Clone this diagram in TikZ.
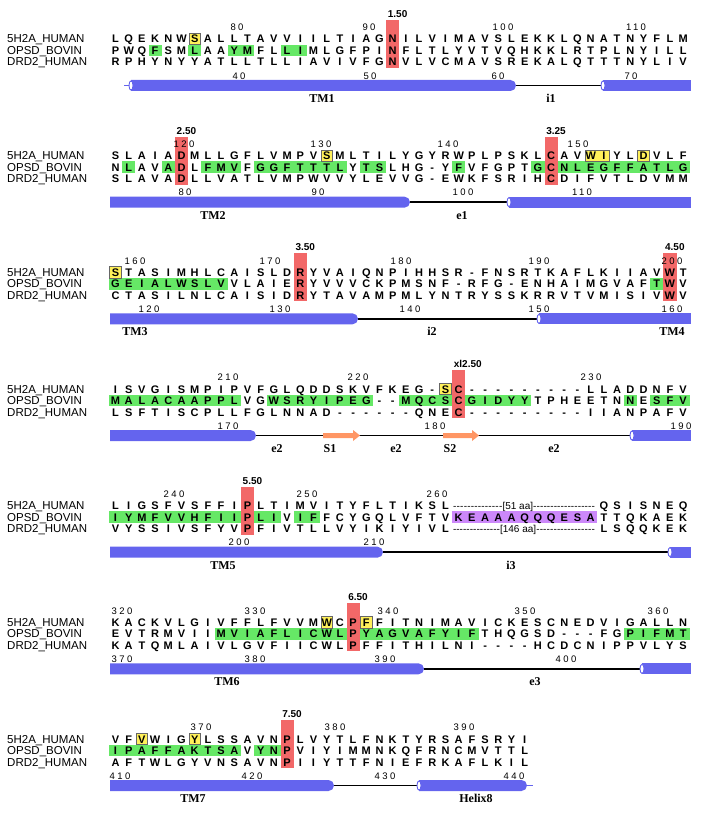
\documentclass[tikz,border=0pt]{standalone}
\usepackage{fontspec}
\setmainfont{Liberation Sans}
\newfontfamily\numfont[LetterSpace=25]{Liberation Sans}
\newfontfamily\sslabelfont{Liberation Serif}
\usetikzlibrary{positioning}

\definecolor{tmred}{RGB}{242,104,104}
\definecolor{consgreen}{RGB}{102,232,102}
\definecolor{boxyellow}{RGB}{255,240,90}
\definecolor{loopviolet}{RGB}{204,136,250}
\definecolor{helixblue}{RGB}{100,100,238}
\definecolor{strandorange}{RGB}{255,150,100}

\newcommand{\colx}[1]{115.5+(#1-1)*13.2}
\newcommand{\rowy}[1]{27.5+11.5*#1}
\newcommand{\seqrow}[4]{\foreach \lett [count=\k from #3] in {#4}{\node[res] (#1c\k) at ({\colx{\k}},{\rowy{#2}+4}) {\lett};}}
\newcommand{\hlrun}[4]{\fill[#1] ({\colx{#3}-6.6},{\rowy{#2}-5.75}) rectangle ({\colx{#4}+6.6},{\rowy{#2}+5.75});}
\newcommand{\ybox}[3]{\filldraw[yellowbox] ({\colx{#2}-5.8},{\rowy{#1}-5.6}) rectangle ({\colx{#3}+5.8},{\rowy{#1}+5.6});}
\newcommand{\bwcol}[3]{\fill[tmred] ({\colx{#2}-6.6},20) rectangle ({\colx{#2}+6.6},68); \node[bwlabel] (#1) at ({\colx{#2}-5},14) {#3};}
\newcommand{\numrow}[3]{\foreach \xx/\nn [count=\k] in {#3}{\node[num] (#1\k) at (\xx,#2) {\nn};}}
\newcommand{\seqnames}[1]{%
  \node[seqname] (#1n1) at (7,{\rowy{1}+4}) {5H2A\_HUMAN};
  \node[seqname] (#1n2) at (7,{\rowy{2}+4}) {OPSD\_BOVIN};
  \node[seqname] (#1n3) at (7,{\rowy{3}+4}) {DRD2\_HUMAN};}
\newcommand{\tmflat}[2]{\fill[helixblue] (#1,80) rectangle (#2,91);}
\newcommand{\tmround}[2]{\fill[helixblue] (#1,80) -- ({#2-5.5},80) arc(-90:90:5.5) -- (#1,91) -- cycle;}
\newcommand{\tmcap}[1]{\filldraw[fill=white,draw=helixblue,line width=0.9pt] (#1,85.5) ellipse (2 and 4.6);}
\newcommand{\betastrand}[2]{\fill[strandorange] (#1,83) -- ({#2-7},83) -- ({#2-7},80) -- (#2,85.5) -- ({#2-7},91) -- ({#2-7},88) -- (#1,88) -- cycle;}

\begin{document}
\begin{tikzpicture}[x=1pt,y=-1pt,
    res/.style={anchor=base,inner sep=0pt,font=\bfseries\fontsize{11}{11}\selectfont},
    seqname/.style={anchor=base west,inner sep=0pt,font=\fontsize{11.5}{11.5}\selectfont},
    num/.style={inner sep=0pt,font=\numfont\fontsize{9.5}{9.5}\selectfont},
    bwlabel/.style={anchor=west,inner sep=0pt,font=\bfseries\fontsize{10}{10}\selectfont},
    sslabel/.style={anchor=base,inner sep=0pt,font=\sslabelfont\bfseries\fontsize{12}{12}\selectfont},
    gaptext/.style={anchor=base,inner sep=0pt,font=\fontsize{10}{10}\selectfont},
    greenbg/.style={fill=consgreen},
    violetbg/.style={fill=loopviolet},
    yellowbox/.style={fill=boxyellow,draw=black!60,line width=0.8pt},
    loopline/.style={line width=1.6pt}]

    \useasboundingbox (0,0) rectangle (708,813);

    % TM1 / i1
    \begin{scope}
    \hlrun{greenbg}{2}{4}{4} \hlrun{greenbg}{2}{7}{7} \hlrun{greenbg}{2}{10}{11} \hlrun{greenbg}{2}{14}{15}
    \ybox{1}{7}{7}
    \bwcol{b1bw}{22}{1.50}
    \numrow{b1t}{27.5}{237/80,369/90,503/100,636/110}
    \numrow{b1b}{76}{239/40,370/50,498/60,631/70}
    \seqnames{b1}
    \seqrow{b1r1}{1}{1}{L,Q,E,K,N,W,S,A,L,L,T,A,V,V,I,I,L,T,I,A,G,N,I,L,V,I,M,A,V,S,L,E,K,K,L,Q,N,A,T,N,Y,F,L,M}
    \seqrow{b1r2}{2}{1}{P,W,Q,F,S,M,L,A,A,Y,M,F,L,L,I,M,L,G,F,P,I,N,F,L,T,L,Y,V,T,V,Q,H,K,K,L,R,T,P,L,N,Y,I,L,L}
    \seqrow{b1r3}{3}{1}{R,P,H,Y,N,Y,Y,A,T,L,L,T,L,L,I,A,V,I,V,F,G,N,V,L,V,C,M,A,V,S,R,E,K,A,L,Q,T,T,T,N,Y,L,I,V}
    \coordinate (b1i1a) at (516,85.5);
    \coordinate (b1i1b) at (603,85.5);
    \draw[loopline] (b1i1a) -- (b1i1b);
    \draw[helixblue,line width=1pt] (124,85.5) -- (131,85.5);
    \tmround{131}{516} \tmcap{131}
    \tmflat{603}{691} \tmcap{603}
    \node[sslabel] (b1tm) at (322,102.5) {TM1};
    \node[sslabel] (b1i1) at (551,102.5) {i1};
    \end{scope}

    % TM2 / e1
    \begin{scope}[shift={(0,116.67)}]
    \hlrun{greenbg}{2}{2}{2} \hlrun{greenbg}{2}{5}{6} \hlrun{greenbg}{2}{8}{10} \hlrun{greenbg}{2}{12}{18}
    \hlrun{greenbg}{2}{20}{21} \hlrun{greenbg}{2}{27}{27} \hlrun{greenbg}{2}{33}{44}
    \ybox{1}{17}{17} \ybox{1}{37}{38} \ybox{1}{41}{41}
    \bwcol{b2bwa}{6}{2.50}
    \bwcol{b2bwb}{34}{3.25}
    \numrow{b2t}{27.5}{184/120,321/130,448/140,578/150}
    \numrow{b2b}{76}{185/80,318/90,463/100,582/110}
    \seqnames{b2}
    \seqrow{b2r1}{1}{1}{S,L,A,I,A,D,M,L,L,G,F,L,V,M,P,V,S,M,L,T,I,L,Y,G,Y,R,W,P,L,P,S,K,L,C,A,V,W,I,Y,L,D,V,L,F}
    \seqrow{b2r2}{2}{1}{N,L,A,V,A,D,L,F,M,V,F,G,G,F,T,T,T,L,Y,T,S,L,H,G,-,Y,F,V,F,G,P,T,G,C,N,L,E,G,F,F,A,T,L,G}
    \seqrow{b2r3}{3}{1}{S,L,A,V,A,D,L,L,V,A,T,L,V,M,P,W,V,V,Y,L,E,V,V,G,-,E,W,K,F,S,R,I,H,C,D,I,F,V,T,L,D,V,M,M}
    \coordinate (b2e1a) at (410,85.5);
    \coordinate (b2e1b) at (509,85.5);
    \draw[loopline] (b2e1a) -- (b2e1b);
    \tmround{110}{410}
    \tmflat{509}{691} \tmcap{509}
    \node[sslabel] (b2tm) at (213,102.5) {TM2};
    \node[sslabel] (b2e1) at (462,102.5) {e1};
    \end{scope}

    % TM3 / i2 / TM4
    \begin{scope}[shift={(0,233.33)}]
    \hlrun{greenbg}{2}{1}{9} \hlrun{greenbg}{2}{42}{43}
    \ybox{1}{1}{1}
    \bwcol{b3bwa}{15}{3.50}
    \bwcol{b3bwb}{43}{4.50}
    \numrow{b3t}{27.5}{135/160,270/170,401/180,539/190,672/200}
    \numrow{b3b}{76}{149/120,280/130,410/140,539/150,672/160}
    \seqnames{b3}
    \seqrow{b3r1}{1}{1}{S,T,A,S,I,M,H,L,C,A,I,S,L,D,R,Y,V,A,I,Q,N,P,I,H,H,S,R,-,F,N,S,R,T,K,A,F,L,K,I,I,A,V,W,T}
    \seqrow{b3r2}{2}{1}{G,E,I,A,L,W,S,L,V,V,L,A,I,E,R,Y,V,V,V,C,K,P,M,S,N,F,-,R,F,G,-,E,N,H,A,I,M,G,V,A,F,T,W,V}
    \seqrow{b3r3}{3}{1}{C,T,A,S,I,L,N,L,C,A,I,S,I,D,R,Y,T,A,V,A,M,P,M,L,Y,N,T,R,Y,S,S,K,R,R,V,T,V,M,I,S,I,V,W,V}
    \coordinate (b3i2a) at (358,85.5);
    \coordinate (b3i2b) at (539,85.5);
    \draw[loopline] (b3i2a) -- (b3i2b);
    \tmround{110}{358}
    \tmflat{539}{691} \tmcap{539}
    \node[sslabel] (b3tma) at (135,102.5) {TM3};
    \node[sslabel] (b3i2) at (432,102.5) {i2};
    \node[sslabel] (b3tmb) at (672,102.5) {TM4};
    \end{scope}

    % e2 with S1 / S2
    \begin{scope}[shift={(0,350)}]
    \hlrun{greenbg}{2}{1}{10} \hlrun{greenbg}{2}{13}{20} \hlrun{greenbg}{2}{23}{32}
    \hlrun{greenbg}{2}{40}{40} \hlrun{greenbg}{2}{42}{44}
    \ybox{1}{26}{26}
    \bwcol{b4bw}{27}{xl2.50}
    \numrow{b4t}{27.5}{228/210,358/220,591/230}
    \numrow{b4b}{76}{228/170,435/180,681/190}
    \seqnames{b4}
    \seqrow{b4r1}{1}{1}{I,S,V,G,I,S,M,P,I,P,V,F,G,L,Q,D,D,S,K,V,F,K,E,G,-,S,C,-,-,-,-,-,-,-,-,-,L,L,A,D,D,N,F,V}
    \seqrow{b4r2}{2}{1}{M,A,L,A,C,A,A,P,P,L,V,G,W,S,R,Y,I,P,E,G,-,-,M,Q,C,S,C,G,I,D,Y,Y,T,P,H,E,E,T,N,N,E,S,F,V}
    \seqrow{b4r3}{3}{1}{L,S,F,T,I,S,C,P,L,L,F,G,L,N,N,A,D,-,-,-,-,-,-,Q,N,E,C,-,-,-,-,-,-,-,-,-,I,I,A,N,P,A,F,V}
    \coordinate (b4loopa) at (256,85.5);
    \coordinate (b4loopb) at (632,85.5);
    \draw[loopline] (b4loopa) -- (b4loopb);
    \betastrand{323}{360}
    \betastrand{443}{479}
    \tmround{110}{256}
    \tmflat{632}{691} \tmcap{632}
    \node[sslabel] (b4e2a) at (277,102.5) {e2};
    \node[sslabel] (b4s1) at (330,102.5) {S1};
    \node[sslabel] (b4e2b) at (396,102.5) {e2};
    \node[sslabel] (b4s2) at (450,102.5) {S2};
    \node[sslabel] (b4e2c) at (554,102.5) {e2};
    \end{scope}

    % TM5 / i3
    \begin{scope}[shift={(0,466.67)}]
    \hlrun{greenbg}{2}{1}{13} \hlrun{greenbg}{2}{15}{16}
    \hlrun{violetbg}{2}{27}{37}
    \bwcol{b5bw}{11}{5.50}
    \numrow{b5t}{27.5}{174/240,307/250,437/260}
    \numrow{b5b}{76}{239/200,374/210}
    \seqnames{b5}
    \seqrow{b5r1}{1}{1}{L,I,G,S,F,V,S,F,F,I,P,L,T,I,M,V,I,T,Y,F,L,T,I,K,S,L}
    \seqrow{b5r1}{1}{38}{Q,S,I,S,N,E,Q}
    \seqrow{b5r2}{2}{1}{I,Y,M,F,V,V,H,F,I,I,P,L,I,V,I,F,F,C,Y,G,Q,L,V,F,T,V,K,E,A,A,A,Q,Q,Q,E,S,A,T,T,Q,K,A,E,K}
    \seqrow{b5r3}{3}{1}{V,Y,S,S,I,V,S,F,Y,V,P,F,I,V,T,L,L,V,Y,I,K,I,Y,I,V,L}
    \seqrow{b5r3}{3}{38}{L,S,Q,Q,K,E,K}
    \node[gaptext] (b5gapa) at (524,{\rowy{1}+3.6}) {\hbox to 142pt{\xleaders\hbox{-}\hskip 0pt plus 4fill[51 aa]\xleaders\hbox{-}\hskip 0pt plus 5fill}};
    \node[gaptext] (b5gapb) at (524,{\rowy{3}+3.6}) {\hbox to 142pt{\xleaders\hbox{-}\hskip 0pt plus 4fill[146 aa]\xleaders\hbox{-}\hskip 0pt plus 5fill}};
    \coordinate (b5i3a) at (383,85.5);
    \coordinate (b5i3b) at (670,85.5);
    \draw[loopline] (b5i3a) -- (b5i3b);
    \tmround{110}{383}
    \tmflat{670}{691} \tmcap{670}
    \node[sslabel] (b5tm) at (223,102.5) {TM5};
    \node[sslabel] (b5i3) at (511,102.5) {i3};
    \end{scope}

    % TM6 / e3
    \begin{scope}[shift={(0,583.33)}]
    \hlrun{greenbg}{2}{9}{28} \hlrun{greenbg}{2}{40}{44}
    \ybox{1}{17}{17} \ybox{1}{20}{20}
    \bwcol{b6bw}{19}{6.50}
    \numrow{b6t}{27.5}{122/320,255/330,388/340,525/350,658/360}
    \numrow{b6b}{76}{122/370,255/380,385/390,566/400}
    \seqnames{b6}
    \seqrow{b6r1}{1}{1}{K,A,C,K,V,L,G,I,V,F,F,L,F,V,V,M,W,C,P,F,F,I,T,N,I,M,A,V,I,C,K,E,S,C,N,E,D,V,I,G,A,L,L,N}
    \seqrow{b6r2}{2}{1}{E,V,T,R,M,V,I,I,M,V,I,A,F,L,I,C,W,L,P,Y,A,G,V,A,F,Y,I,F,T,H,Q,G,S,D,-,-,-,F,G,P,I,F,M,T}
    \seqrow{b6r3}{3}{1}{K,A,T,Q,M,L,A,I,V,L,G,V,F,I,I,C,W,L,P,F,F,I,T,H,I,L,N,I,-,-,-,-,H,C,D,C,N,I,P,P,V,L,Y,S}
    \coordinate (b6e3a) at (424,85.5);
    \coordinate (b6e3b) at (642,85.5);
    \draw[loopline] (b6e3a) -- (b6e3b);
    \tmround{110}{424}
    \tmflat{642}{691} \tmcap{642}
    \node[sslabel] (b6tm) at (227,102.5) {TM6};
    \node[sslabel] (b6e3) at (535,102.5) {e3};
    \end{scope}

    % TM7 / Helix8
    \begin{scope}[shift={(0,700)}]
    \hlrun{greenbg}{2}{1}{10} \hlrun{greenbg}{2}{12}{13}
    \ybox{1}{3}{3} \ybox{1}{7}{7}
    \bwcol{b7bw}{14}{7.50}
    \numrow{b7t}{27.5}{201/370,335/380,464/390}
    \numrow{b7b}{76}{120/410,252/420,385/430,514/440}
    \seqnames{b7}
    \seqrow{b7r1}{1}{1}{V,F,V,W,I,G,Y,L,S,S,A,V,N,P,L,V,Y,T,L,F,N,K,T,Y,R,S,A,F,S,R,Y,I}
    \seqrow{b7r2}{2}{1}{I,P,A,F,F,A,K,T,S,A,V,Y,N,P,V,I,Y,I,M,M,N,K,Q,F,R,N,C,M,V,T,T,L}
    \seqrow{b7r3}{3}{1}{A,F,T,W,L,G,Y,V,N,S,A,V,N,P,I,I,Y,T,T,F,N,I,E,F,R,K,A,F,L,K,I,L}
    \coordinate (b7loopa) at (334,85.5);
    \coordinate (b7loopb) at (419,85.5);
    \draw[loopline] (b7loopa) -- (b7loopb);
    \draw[helixblue,line width=1pt] (524,85.5) -- (533,85.5);
    \tmround{110}{334}
    \tmround{419}{527} \tmcap{419}
    \node[sslabel] (b7tm) at (193,102.5) {TM7};
    \node[sslabel] (b7h8) at (476,102.5) {Helix8};
    \end{scope}

\end{tikzpicture}
\end{document}
